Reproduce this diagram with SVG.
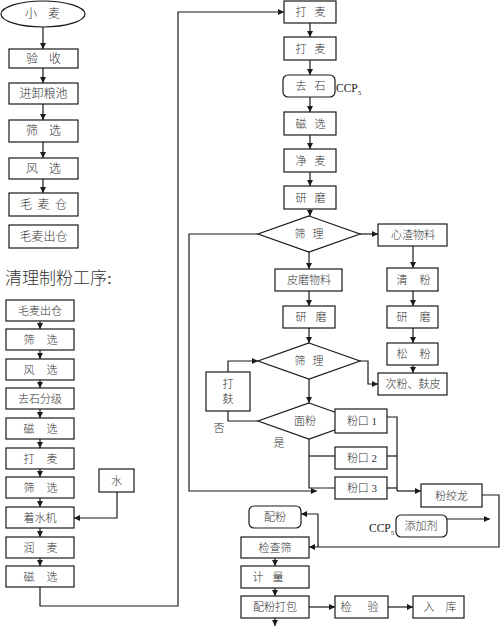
<svg xmlns="http://www.w3.org/2000/svg" width="500" height="627" viewBox="0 0 500 627">
<style>
.b{fill:#fff;stroke:#1a1a1a;stroke-width:1.2}
.t{font-family:"Liberation Serif","Noto Sans CJK SC",serif;font-size:11px;font-weight:300;fill:#333;text-anchor:middle;dominant-baseline:central}
.l{font-size:12px}
.c{fill:none;stroke:#1a1a1a;stroke-width:1.2}
.a{marker-end:url(#ar)}
.h{font-family:"Liberation Serif","Noto Sans CJK SC",serif;font-size:17px;font-weight:300;fill:#333}
.p{font-family:"Liberation Serif",serif;font-size:11.5px;fill:#1a1a1a}
.s{font-size:7px}
</style>
<defs>
<marker id="ar" viewBox="0 0 10 10" refX="10" refY="5" markerWidth="6" markerHeight="6" markerUnits="userSpaceOnUse" orient="auto">
<path d="M0,0 L10,5 L0,10 z" fill="#1a1a1a"/>
</marker>
</defs>
<rect width="500" height="627" fill="#fff"/>

<g id="connectors">
<path class="c a" d="M43 27 V49"/>
<path class="c a" d="M43 68 V83"/>
<path class="c a" d="M43 104 V120"/>
<path class="c a" d="M43 142 V158"/>
<path class="c a" d="M43 179 V193"/>
<path class="c a" d="M40 321 V329"/>
<path class="c a" d="M40 350 V359"/>
<path class="c a" d="M40 380 V388"/>
<path class="c a" d="M40 409 V418"/>
<path class="c a" d="M40 439 V448"/>
<path class="c a" d="M40 469 V477"/>
<path class="c a" d="M40 498 V507"/>
<path class="c a" d="M40 528 V537"/>
<path class="c a" d="M40 558 V566"/>
<path class="c a" d="M117 492 V518 H74"/>
<path class="c a" d="M40 587 V606 H178 V12 H284"/>
<path class="c a" d="M310 23 V37"/>
<path class="c a" d="M310 60 V75"/>
<path class="c a" d="M310 97 V112"/>
<path class="c a" d="M310 135 V149"/>
<path class="c a" d="M310 172 V186"/>
<path class="c a" d="M310 209 V216"/>
<path class="c a" d="M360 234 H378"/>
<path class="c a" d="M309 252 V269"/>
<path class="c a" d="M309 291 V306"/>
<path class="c a" d="M309 328 V343"/>
<path class="c a" d="M413 246 V268"/>
<path class="c a" d="M413 291 V306"/>
<path class="c a" d="M413 328 V343"/>
<path class="c a" d="M413 365 V373"/>
<path class="c a" d="M360 361 H368 V384 H378"/>
<path class="c a" d="M228 372 V361 H258"/>
<path class="c a" d="M309 379 V403"/>
<path class="c" d="M258 421 H228 V411"/>
<path class="c a" d="M258 234 H189 V491 H317"/>
<path class="c" d="M309 439 V488 H335"/>
<path class="c" d="M309 456 H335"/>
<path class="c" d="M387 417 H397 V491"/>
<path class="c" d="M387 456 H397"/>
<path class="c" d="M387 488 H397"/>
<path class="c a" d="M397 491 H421"/>
<path class="c a" d="M482 495 H499 V547 H309"/>
<path class="c a" d="M318 547 V514 H301"/>
<path class="c a" d="M447 519 H490"/>
<path class="c a" d="M275 558 V566"/>
<path class="c a" d="M275 588 V596"/>
<path class="c a" d="M275 618 V626"/>
<path class="c a" d="M309 607 H335"/>
<path class="c a" d="M388 607 H413"/>
</g>

<g id="n-xiaomai"><ellipse class="b" cx="43" cy="14" rx="42" ry="13"/><text class="t l" x="31 54" y="14">小麦</text></g>
<g id="n-yanshou"><rect class="b" x="9" y="49" width="69" height="19"/><text class="t l" x="32 55" y="58.5">验收</text></g>
<g id="n-jinxie"><rect class="b" x="9" y="83" width="69" height="21"/><text class="t l" x="43.5" y="93.5">进卸粮池</text></g>
<g id="n-shaixuan1"><rect class="b" x="9" y="120" width="69" height="22"/><text class="t l" x="32 55" y="131">筛选</text></g>
<g id="n-fengxuan1"><rect class="b" x="9" y="158" width="69" height="21"/><text class="t l" x="32 55" y="168.5">风选</text></g>
<g id="n-maomaicang"><rect class="b" x="9" y="193" width="69" height="23"/><text class="t l" x="26 43.5 61" y="204.5">毛麦仓</text></g>
<g id="n-maomaichucang1"><rect class="b" x="9" y="225" width="69" height="23"/><text class="t l" x="43.5" y="236.5">毛麦出仓</text></g>

<text class="h" x="5" y="284">清理制粉工序:</text>

<g id="n-maomaichucang2"><rect class="b" x="6" y="300" width="68" height="21"/><text class="t" x="40" y="310.5">毛麦出仓</text></g>
<g id="n-shaixuan2"><rect class="b" x="6" y="329" width="68" height="21"/><text class="t" x="29 52" y="339.5">筛选</text></g>
<g id="n-fengxuan2"><rect class="b" x="6" y="359" width="68" height="21"/><text class="t" x="29 52" y="369.5">风选</text></g>
<g id="n-qushifenji"><rect class="b" x="6" y="388" width="68" height="21"/><text class="t" x="40" y="398.5">去石分级</text></g>
<g id="n-cixuan2"><rect class="b" x="6" y="418" width="68" height="21"/><text class="t" x="29 52" y="428.5">磁选</text></g>
<g id="n-damai2"><rect class="b" x="6" y="448" width="68" height="21"/><text class="t" x="29 52" y="458.5">打麦</text></g>
<g id="n-shaixuan3"><rect class="b" x="6" y="477" width="68" height="21"/><text class="t" x="29 52" y="487.5">筛选</text></g>
<g id="n-zhaoshuiji"><rect class="b" x="6" y="507" width="68" height="21"/><text class="t" x="40" y="517.5">着水机</text></g>
<g id="n-runmai"><rect class="b" x="6" y="537" width="68" height="21"/><text class="t" x="29 52" y="547.5">润麦</text></g>
<g id="n-cixuan3"><rect class="b" x="6" y="566" width="68" height="21"/><text class="t" x="29 52" y="576.5">磁选</text></g>
<g id="n-shui"><rect class="b" x="99" y="469" width="35" height="23"/><text class="t" x="116.5" y="480.5">水</text></g>

<g id="n-damai-r1"><rect class="b" x="284" y="1" width="52" height="22"/><text class="t" x="301 320" y="12">打麦</text></g>
<g id="n-damai-r2"><rect class="b" x="284" y="37" width="52" height="23"/><text class="t" x="301 320" y="48.5">打麦</text></g>
<g id="n-qushi"><rect class="b" x="283" y="75" width="52" height="22" rx="5"/><text class="t" x="301 320" y="86">去石</text>
<text class="p" x="336" y="92">CCP<tspan class="s" dy="3">5</tspan></text></g>
<g id="n-cixuan-r"><rect class="b" x="284" y="112" width="52" height="23"/><text class="t" x="301 320" y="123.5">磁选</text></g>
<g id="n-jingmai"><rect class="b" x="284" y="149" width="52" height="23"/><text class="t" x="301 320" y="160.5">净麦</text></g>
<g id="n-yanmo1"><rect class="b" x="284" y="186" width="52" height="23"/><text class="t" x="301 320" y="197.5">研磨</text></g>
<g id="n-shaili1"><polygon class="b" points="309,216 360,234 309,252 258,234"/><text class="t" x="300 318" y="234">筛理</text></g>
<g id="n-xinzha"><rect class="b" x="378" y="224" width="69" height="22"/><text class="t" x="413" y="235">心渣物料</text></g>
<g id="n-pimo"><rect class="b" x="275" y="269" width="67" height="22"/><text class="t" x="309" y="280">皮磨物料</text></g>
<g id="n-yanmo2"><rect class="b" x="283" y="306" width="52" height="22"/><text class="t" x="301 321" y="317">研磨</text></g>
<g id="n-qingfen"><rect class="b" x="387" y="268" width="51" height="23"/><text class="t" x="402 425" y="279.5">清粉</text></g>
<g id="n-yanmo3"><rect class="b" x="387" y="306" width="51" height="22"/><text class="t" x="402 425" y="317">研磨</text></g>
<g id="n-songfen"><rect class="b" x="387" y="343" width="51" height="22"/><text class="t" x="402 425" y="354">松粉</text></g>
<g id="n-cifen"><rect class="b" x="378" y="373" width="69" height="22"/><text class="t" x="413" y="384">次粉、麸皮</text></g>
<g id="n-shaili2"><polygon class="b" points="309,343 360,361 309,379 258,361"/><text class="t" x="300 318" y="361">筛理</text></g>
<g id="n-dafu"><rect class="b" x="206" y="372" width="44" height="39"/><text class="t" x="228" y="384">打</text><text class="t" x="228" y="399">麸</text></g>
<g id="n-mianfen"><polygon class="b" points="309,403 360,421 309,439 258,421"/><text class="t" x="305" y="421">面粉</text></g>
<text class="t" x="219" y="428">否</text>
<text class="t" x="279" y="443">是</text>
<g id="n-fenkou1"><rect class="b" x="335" y="409" width="52" height="24"/><text class="t" x="362" y="421">粉口 1</text></g>
<g id="n-fenkou2"><rect class="b" x="335" y="447" width="52" height="22"/><text class="t" x="362" y="458">粉口 2</text></g>
<g id="n-fenkou3"><rect class="b" x="335" y="477" width="52" height="22"/><text class="t" x="362" y="488">粉口 3</text></g>
<g id="n-fenjiaolong"><rect class="b" x="421" y="484" width="61" height="23"/><text class="t" x="451.5" y="495.5">粉绞龙</text></g>
<g id="n-peifen"><rect class="b" x="249" y="506" width="52" height="22" rx="5"/><text class="t" x="275" y="517">配粉</text></g>
<g id="n-tianjiaji"><rect class="b" x="396" y="515" width="51" height="22" rx="5"/><text class="t" x="421" y="526">添加剂</text>
<text class="p" x="369" y="532">CCP<tspan class="s" dy="3">5</tspan></text></g>
<g id="n-jianchashai"><rect class="b" x="241" y="537" width="68" height="21"/><text class="t" x="275" y="547.5">检查筛</text></g>
<g id="n-jiliang"><rect class="b" x="241" y="566" width="68" height="22"/><text class="t" x="258 278" y="577">计量</text></g>
<g id="n-peifendabao"><rect class="b" x="241" y="596" width="68" height="22"/><text class="t" x="275" y="607">配粉打包</text></g>
<g id="n-jianyan"><rect class="b" x="335" y="596" width="53" height="22"/><text class="t" x="346 373" y="607">检验</text></g>
<g id="n-ruku"><rect class="b" x="413" y="596" width="51" height="22"/><text class="t" x="429 451" y="607">入库</text></g>
</svg>
